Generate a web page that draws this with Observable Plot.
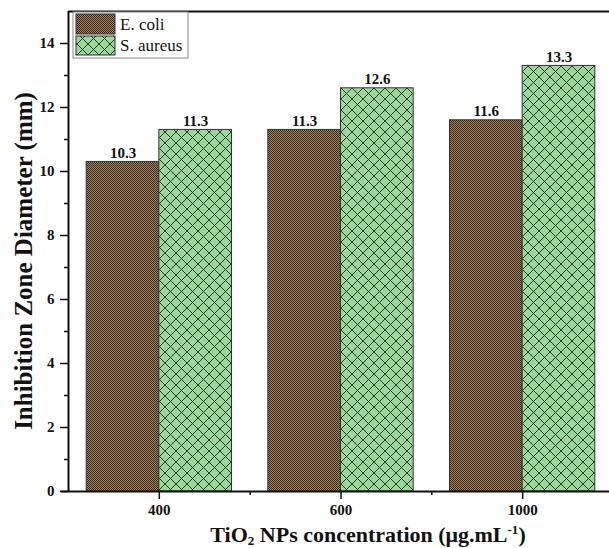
<!DOCTYPE html>
<html><head><meta charset="utf-8">
<script src="https://cdn.jsdelivr.net/npm/d3@7"></script>
<script src="https://cdn.jsdelivr.net/npm/@observablehq/plot@0.6"></script>
<style>body{margin:0;background:#fff}</style>
</head><body><div id="chart"></div>
<script>
const concentrations = ["400", "600", "1000"];
const seriesNames = ["E. coli", "S. aureus"];
const ecoli = [10.3, 11.3, 11.6];
const saureus = [11.3, 12.6, 13.3];
const yMajorTicks = [0, 2, 4, 6, 8, 10, 12, 14];
const yMinorTicks = [1, 3, 5, 7, 9, 11, 13];
const xMinorTicks = [0.5, 1.5];

const barW = 0.4;
const ecoliData = concentrations.map((c, i) => ({c, x1: i - barW, x2: i, value: ecoli[i]}));
const saureusData = concentrations.map((c, i) => ({c, x1: i, x2: i + barW, value: saureus[i]}));

const FONT = '"Liberation Serif","Times New Roman",serif';

const plot = Plot.plot({
  width: 609, height: 548,
  marginLeft: 68, marginTop: 11, marginBottom: 57, marginRight: 0,
  x: {type: "linear", domain: [-0.5, 2.5], range: [68, 613]},
  y: {domain: [0, 15], range: [491, 11]},
  style: {fontFamily: FONT, background: "white", overflow: "visible", color: "#111"},
  marks: [
    Plot.rect(ecoliData, {x1: "x1", x2: "x2", y1: 0, y2: "value", fill: "url(#ecoliPat)", stroke: "#333", strokeWidth: 1}),
    Plot.rect(saureusData, {x1: "x1", x2: "x2", y1: 0, y2: "value", fill: "url(#saureusPat)", stroke: "#333", strokeWidth: 1}),
    Plot.text(ecoliData, {x: d => (d.x1 + d.x2) / 2, y: "value", text: d => d.value.toFixed(1), dy: -9, fontWeight: "bold", fontSize: 15, fill: "#111"}),
    Plot.text(saureusData, {x: d => (d.x1 + d.x2) / 2, y: "value", text: d => d.value.toFixed(1), dy: -9, fontWeight: "bold", fontSize: 15, fill: "#111"}),
    Plot.axisY({ticks: yMajorTicks, tickSize: 8, tickPadding: 6, tickFormat: d => String(d), fontSize: 15, fontWeight: "bold", label: null, strokeWidth: 1.5}),
    Plot.axisY({ticks: yMinorTicks, tickSize: 4, tickFormat: () => "", label: null, strokeWidth: 1.5}),
    Plot.axisX({ticks: [0, 1, 2], tickSize: 8, tickPadding: 5, tickFormat: i => concentrations[i], fontSize: 15, fontWeight: "bold", label: null, strokeWidth: 1.5}),
    Plot.axisX({ticks: xMinorTicks, tickSize: 4, tickFormat: () => "", label: null, strokeWidth: 1.5}),
    Plot.ruleY([0], {x1: -0.54, x2: 2.5, stroke: "#111", strokeWidth: 2}),
    Plot.ruleY([15], {x1: -0.5, x2: 2.5, stroke: "#111", strokeWidth: 2}),
    Plot.ruleX([-0.5], {y1: 0, y2: 15, stroke: "#111", strokeWidth: 2})
  ]
});

const svg = d3.select(plot);
const defs = svg.insert("defs", ":first-child");
// E. coli: fine dark-brown checker pattern
const p1 = defs.append("pattern").attr("id", "ecoliPat").attr("patternUnits", "userSpaceOnUse").attr("width", 2).attr("height", 2);
p1.append("rect").attr("width", 2).attr("height", 2).attr("fill", "#a3835f");
p1.append("rect").attr("x", 0).attr("y", 0).attr("width", 1).attr("height", 1).attr("fill", "#3a2a1d");
p1.append("rect").attr("x", 1).attr("y", 1).attr("width", 1).attr("height", 1).attr("fill", "#3a2a1d");
// S. aureus: green with diagonal crosshatch
const s = 11;
const p2 = defs.append("pattern").attr("id", "saureusPat").attr("patternUnits", "userSpaceOnUse").attr("width", s).attr("height", s);
p2.append("rect").attr("width", s).attr("height", s).attr("fill", "#9ad79a");
p2.append("path").attr("d", `M0,0L${s},${s}M${s},0L0,${s}M${-s/2},${s/2}L${s/2},${s*1.5}M${s/2},${-s/2}L${s*1.5},${s/2}M${s/2},${s*1.5}L${s*1.5},${s/2}M${-s/2},${s/2}L${s/2},${-s/2}`)
  .attr("stroke", "#2c3a2c").attr("stroke-width", 1).attr("fill", "none");

// Legend
const lg = svg.append("g").attr("font-family", FONT).attr("text-anchor", "start");
lg.append("rect").attr("x", 73).attr("y", 12).attr("width", 115).attr("height", 46).attr("fill", "white").attr("stroke", "#888").attr("stroke-width", 1);
lg.append("rect").attr("x", 76).attr("y", 14).attr("width", 39).attr("height", 20).attr("fill", "url(#ecoliPat)").attr("stroke", "#333");
lg.append("rect").attr("x", 76).attr("y", 36).attr("width", 39).attr("height", 19).attr("fill", "url(#saureusPat)").attr("stroke", "#333");
lg.append("text").attr("x", 120).attr("y", 30).attr("font-size", 17).attr("fill", "#111").text(seriesNames[0]);
lg.append("text").attr("x", 120).attr("y", 51).attr("font-size", 17).attr("fill", "#111").text(seriesNames[1]);

// Axis titles
svg.append("text").attr("transform", "translate(32,261) rotate(-90)").attr("text-anchor", "middle")
  .attr("font-family", FONT).attr("font-weight", "bold").attr("font-size", 25).attr("fill", "#111")
  .text("Inhibition Zone Diameter (mm)");
const xt = svg.append("text").attr("x", 368).attr("y", 542).attr("text-anchor", "middle")
  .attr("font-family", FONT).attr("font-weight", "bold").attr("font-size", 22).attr("fill", "#111");
xt.append("tspan").text("TiO");
xt.append("tspan").attr("font-size", 13).attr("dy", 3).text("2");
xt.append("tspan").attr("dy", -3).text(" NPs concentration (μg.mL");
xt.append("tspan").attr("font-size", 13).attr("dy", -8).text("-1");
xt.append("tspan").attr("dy", 8).text(")");

document.getElementById("chart").appendChild(plot);
</script>
</body></html>
